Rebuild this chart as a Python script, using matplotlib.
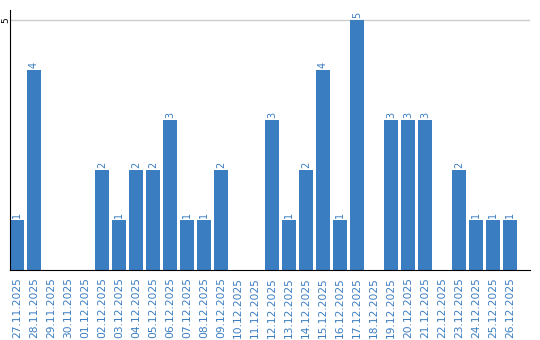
import matplotlib
matplotlib.use("Agg")
import matplotlib.pyplot as plt

# daten
tage = ["27.11.2025", "28.11.2025", "29.11.2025", "30.11.2025", "01.12.2025",
        "02.12.2025", "03.12.2025", "04.12.2025", "05.12.2025", "06.12.2025",
        "07.12.2025", "08.12.2025", "09.12.2025", "10.12.2025", "11.12.2025",
        "12.12.2025", "13.12.2025", "14.12.2025", "15.12.2025", "16.12.2025",
        "17.12.2025", "18.12.2025", "19.12.2025", "20.12.2025", "21.12.2025",
        "22.12.2025", "23.12.2025", "24.12.2025", "25.12.2025", "26.12.2025"]
werte = [1, 4, 0, 0, 0, 2, 1, 2, 2, 3, 1, 1, 2, 0, 0,
         3, 1, 2, 4, 1, 5, 0, 3, 3, 3, 0, 2, 1, 1, 1]

blau = "#3b7dc1"

fig = plt.figure(figsize=(5.4, 3.4), dpi=100)
ax = fig.add_axes([10/540, 70/340, 520/540, 260/340])

x = list(range(len(tage)))
ax.bar(x, werte, width=0.82, color=blau, zorder=2)

# beschriftung ueber den balken
for xi, v in zip(x, werte):
    if v > 0:
        ax.text(xi, v + 0.05, str(v), rotation=90, ha="center", va="bottom",
                color=blau, fontsize=7)

ax.set_xlim(-0.41, 30.18)
ax.set_ylim(0, 5.2)
ax.set_xticks(x)
ax.set_xticklabels(tage, rotation=90, color=blau, fontsize=7.7)
ax.set_yticks([5])
ax.set_yticklabels(["5"], rotation=90, fontsize=6.5, va="center")
ax.tick_params(axis="x", length=0, pad=5)
ax.tick_params(axis="y", length=0, pad=0)
ax.grid(axis="y", color="#cccccc", linewidth=1, zorder=0)

ax.spines["top"].set_visible(False)
ax.spines["right"].set_visible(False)
ax.spines["left"].set_color("black")
ax.spines["bottom"].set_color("black")

fig.savefig("out.png", dpi=100)
